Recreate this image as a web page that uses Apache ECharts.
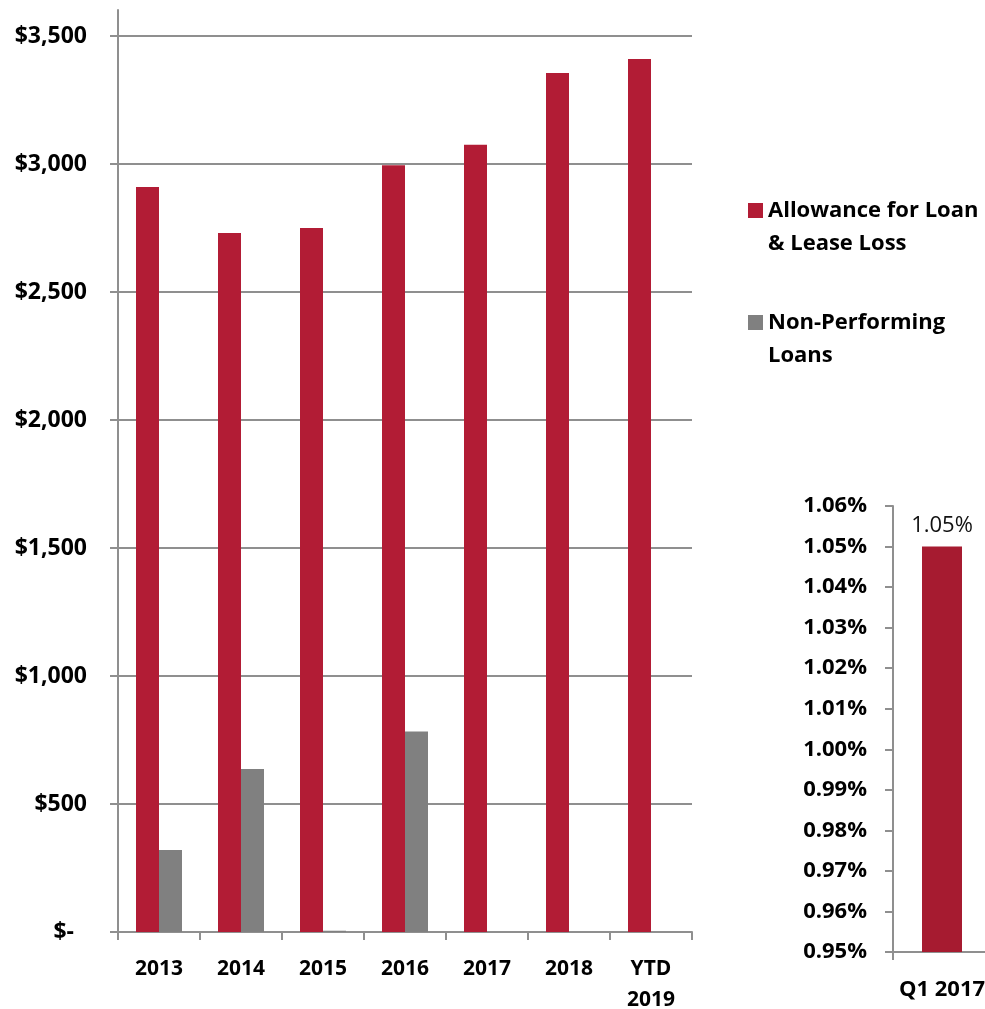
<!DOCTYPE html>
<html>
<head>
<meta charset="utf-8">
<script src="https://cdn.jsdelivr.net/npm/echarts@6/dist/echarts.min.js"></script>
<style>
  html, body { margin: 0; padding: 0; background: #fff; }
  #chart { width: 985px; height: 1009px; }
</style>
</head>
<body>
<div id="chart"></div>
<script>
// Yearly credit-quality figures ($ thousands)
const categories = ['2013', '2014', '2015', '2016', '2017', '2018', 'YTD\n2019'];
const allowanceName = 'Allowance for Loan\n& Lease Loss';
const nonPerformingName = 'Non-Performing\nLoans';
const allowance = [2910, 2730, 2750, 2995, 3075, 3355, 3410];
const nonPerforming = [320, 637, 5, 783, 0, 0, 0];

// Allowance-to-loans ratio (%)
const ratioCategories = ['Q1 2017'];
const ratioValues = [1.05];

const FONT = '"Open Sans", Lato, sans-serif';
const RED = '#B21C35';
const RED_DARK = '#A61B30';
const GREY = '#808080';
const LINE = '#8F8F8F';

const chart = echarts.init(document.getElementById('chart'), null, { renderer: 'canvas' });

// legend names wrap onto a second line; a blank leading line keeps the
// first line level with the colour swatch
const legendText = {
  fontFamily: FONT, fontWeight: 'bold', fontSize: 22, color: '#000', lineHeight: 33
};
const legendFormatter = name => '\n' + name;

chart.setOption({
  animation: false,
  backgroundColor: '#fff',
  legend: [
    {
      data: [allowanceName], left: 748, top: 161, padding: 0,
      itemWidth: 15, itemHeight: 15, itemGap: 0,
      icon: 'rect', textStyle: legendText, formatter: legendFormatter, selectedMode: false
    },
    {
      data: [nonPerformingName], left: 748, top: 273, padding: 0,
      itemWidth: 15, itemHeight: 15, itemGap: 0,
      icon: 'rect', textStyle: legendText, formatter: legendFormatter, selectedMode: false
    }
  ],
  grid: [
    { left: 118, width: 574, top: 36, bottom: 77, containLabel: false, outerBoundsMode: 'none' },
    { left: 118, width: 574, top: 10, bottom: 77, containLabel: false, outerBoundsMode: 'none' },
    { left: 893, width: 98, top: 506, bottom: 57, containLabel: false, outerBoundsMode: 'none' }
  ],
  xAxis: [
    {
      type: 'category', gridIndex: 0, data: categories,
      axisLine: { lineStyle: { color: LINE, width: 2 } },
      axisTick: { show: true, length: 8, lineStyle: { color: LINE, width: 2 } },
      axisLabel: {
        fontFamily: FONT, fontWeight: 'bold', fontSize: 21, color: '#000',
        margin: 22, lineHeight: 31, interval: 0
      }
    },
    {
      type: 'category', gridIndex: 1, data: categories, show: false
    },
    {
      type: 'category', gridIndex: 2, data: ratioCategories,
      axisLine: { lineStyle: { color: LINE, width: 2 } },
      axisTick: { show: true, length: 8, lineStyle: { color: LINE, width: 2 } },
      axisLabel: {
        fontFamily: FONT, fontWeight: 'bold', fontSize: 22, color: '#000', margin: 27
      }
    }
  ],
  yAxis: [
    {
      type: 'value', gridIndex: 0, min: 0, max: 3500, interval: 500,
      axisLine: { show: true, lineStyle: { color: LINE, width: 2 } },
      axisTick: { show: true, length: 8, lineStyle: { color: LINE, width: 2 } },
      splitLine: { show: true, lineStyle: { color: LINE, width: 2 } },
      axisLabel: {
        fontFamily: FONT, fontWeight: 'bold', fontSize: 23, color: '#000', margin: 31,
        formatter: v => v === 0 ? '{d|$-}' : '$' + v.toLocaleString('en-US'),
        rich: {
          d: { fontFamily: FONT, fontWeight: 'bold', fontSize: 23, color: '#000', padding: [0, 13, 0, 0] }
        }
      }
    },
    {
      // taller axis line rising above the top gridline
      type: 'value', gridIndex: 1, min: 0, max: 3600,
      axisLine: { show: true, lineStyle: { color: LINE, width: 2 } },
      axisTick: { show: false }, axisLabel: { show: false }, splitLine: { show: false }
    },
    {
      type: 'value', gridIndex: 2, min: 0.95, max: 1.06, interval: 0.01,
      axisLine: { show: true, lineStyle: { color: LINE, width: 2 } },
      axisTick: { show: true, length: 8, lineStyle: { color: LINE, width: 2 } },
      splitLine: { show: false },
      axisLabel: {
        fontFamily: FONT, fontWeight: 'bold', fontSize: 22, color: '#000', margin: 26,
        formatter: v => v.toFixed(2) + '%'
      }
    }
  ],
  series: [
    {
      name: allowanceName, type: 'bar', xAxisIndex: 0, yAxisIndex: 0,
      data: allowance, barWidth: 23, barGap: '0%',
      itemStyle: { color: RED }
    },
    {
      name: nonPerformingName, type: 'bar', xAxisIndex: 0, yAxisIndex: 0,
      data: nonPerforming, barWidth: 23, barGap: '0%',
      itemStyle: { color: GREY }
    },
    {
      name: 'Ratio', type: 'bar', xAxisIndex: 2, yAxisIndex: 2,
      data: ratioValues, barWidth: 40,
      itemStyle: { color: RED_DARK },
      label: {
        show: true, position: 'top', distance: 10,
        fontFamily: FONT, fontSize: 22, color: '#111',
        formatter: p => p.value.toFixed(2) + '%'
      }
    }
  ]
});
</script>
</body>
</html>
